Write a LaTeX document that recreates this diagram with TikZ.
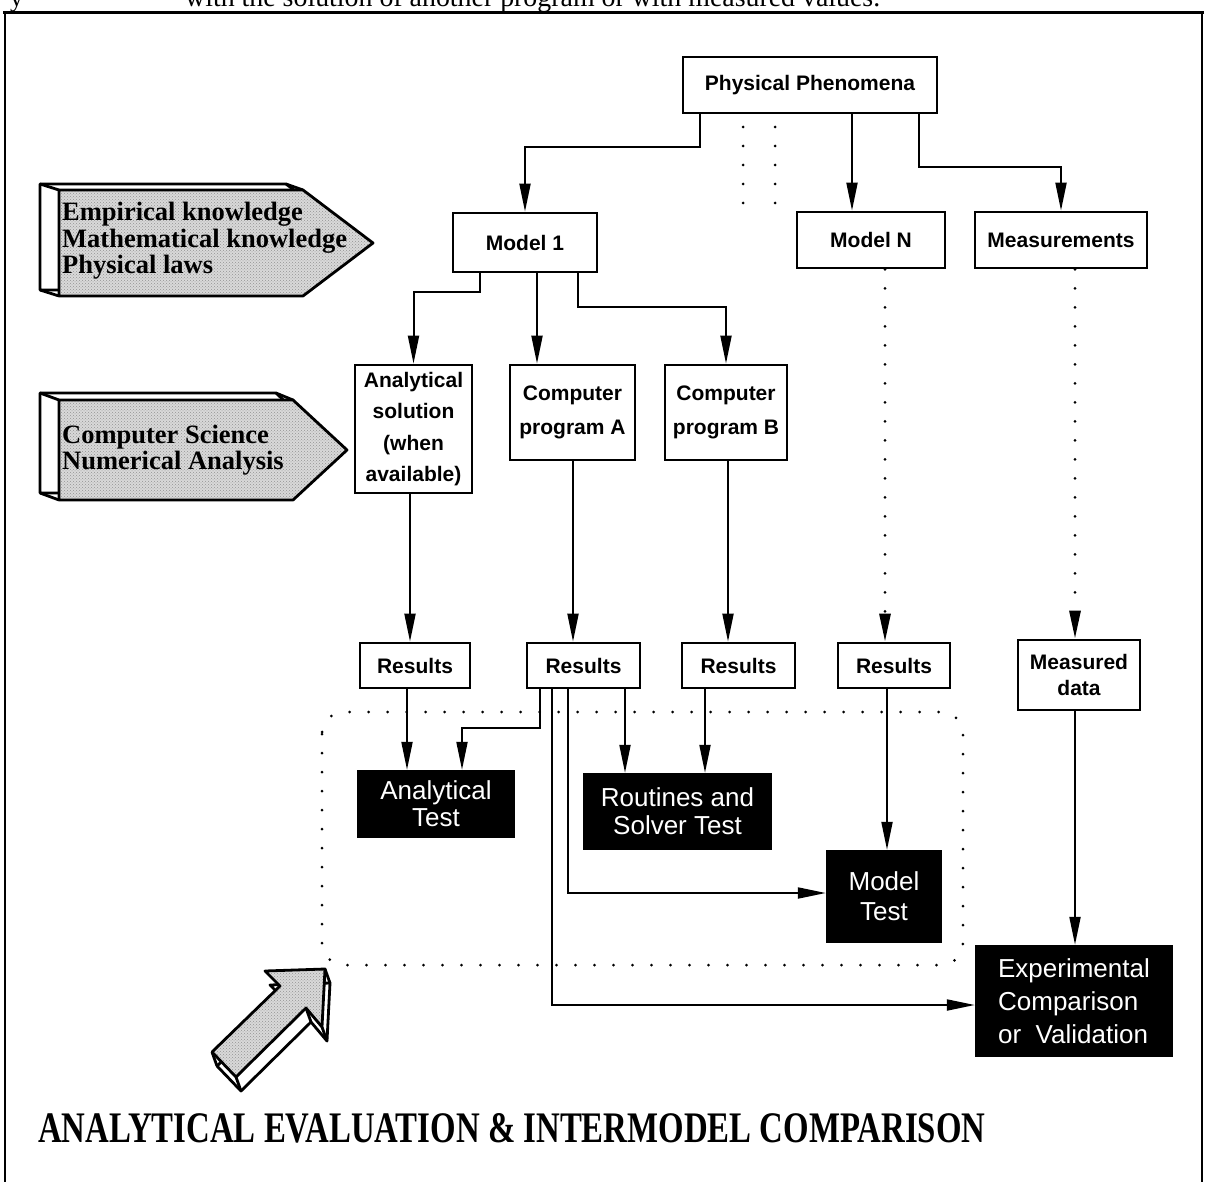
\documentclass[tikz,border=0pt]{standalone}
\usepackage{fontspec}
\setmainfont{Liberation Serif}
\setsansfont{Liberation Sans}
\usetikzlibrary{arrows.meta,patterns}

\tikzset{
  wbox/.style={draw, line width=2.8pt, fill=white, inner sep=0pt, align=center,
    font=\sffamily\bfseries\fontsize{21}{34}\selectfont},
  bbox/.style={fill=black, text=white, inner sep=0pt, align=center,
    font=\sffamily\fontsize{26}{29}\selectfont},
  tip/.style={-{Triangle[length=28pt,width=11pt]}},
  conn/.style={line width=2pt, tip},
  dotline/.style={line width=3pt, line cap=round, dash pattern=on 0pt off 19pt},
  dotconn/.style={dotline, tip},
  signface/.style={line width=2.8pt, line join=round,
    preaction={fill=gray!30},
    preaction={pattern=crosshatch dots, pattern color=gray!85}},
  signside/.style={line width=2.8pt, line join=round, fill=white},
  signtext/.style={anchor=west, inner sep=0pt, align=left,
    font=\bfseries\fontsize{26.5}{26.5}\selectfont},
}

\begin{document}
\begin{tikzpicture}[x=1pt,y=-1pt]
\useasboundingbox (0,0) rectangle (1207,1182);

% running text of the page above the figure (cut by the page edge)
\node[anchor=base west, inner sep=0pt, font=\fontsize{26}{26}\selectfont] (prev1) at (10,7) {y};
\node[anchor=base west, inner sep=0pt] (prev2) at (185,7)
  {\resizebox{695pt}{!}{\fontsize{26}{26}\selectfont with the solution of another program or with measured values.}};

% outer frame (open at the bottom)
\draw[line width=2pt] (5,1190) -- (5,13);
\draw[line width=2pt] (1202,13) -- (1202,1190);
\fill[white] (3,11.5) rectangle (1204,14.5);
\draw[line width=3pt] (3,13) -- (1204,13);

% ---------- white boxes ----------
\node[wbox, minimum width=254pt, minimum height=56pt] (pp)   at (810,85)    {Physical Phenomena};
\node[wbox, minimum width=144pt, minimum height=59pt] (m1)   at (525,242.5) {Model 1};
\node[wbox, minimum width=148pt, minimum height=56pt] (mn)   at (871,240)   {Model N};
\node[wbox, minimum width=172pt, minimum height=56pt] (meas) at (1061,240)  {Measurements};
\node[wbox, minimum width=117pt, minimum height=128pt, font=\sffamily\bfseries\fontsize{21}{31.5}\selectfont] (as) at (413.5,429) {Analytical\\solution\\(when\\available)};
\node[wbox, minimum width=125pt, minimum height=95pt] (pa)   at (572.5,412.5) {Computer\\program A};
\node[wbox, minimum width=122pt, minimum height=95pt] (pb)   at (726,412.5)   {Computer\\program B};
\node[wbox, minimum width=110pt, minimum height=45pt] (r1)   at (415,665.5)   {Results};
\node[wbox, minimum width=113pt, minimum height=45pt] (r2)   at (583.5,665.5) {Results};
\node[wbox, minimum width=113pt, minimum height=45pt] (r3)   at (738.5,665.5) {Results};
\node[wbox, minimum width=112pt, minimum height=45pt] (r4)   at (894,665.5)   {Results};
\node[wbox, minimum width=122pt, minimum height=70pt, font=\sffamily\bfseries\fontsize{21}{26}\selectfont] (md) at (1079,675) {Measured\\data};

% ---------- black boxes ----------
\node[bbox, minimum width=158pt, minimum height=68pt, font=\sffamily\fontsize{26}{27}\selectfont] (at) at (436,804) {Analytical\\Test};
\node[bbox, minimum width=189pt, minimum height=77pt, font=\sffamily\fontsize{26}{28}\selectfont] (rs) at (677.5,811.5) {Routines and\\Solver Test};
\node[bbox, minimum width=116pt, minimum height=93pt, font=\sffamily\fontsize{26}{30}\selectfont] (mt) at (884,896.5) {Model\\Test};
\node[bbox, minimum width=198pt, minimum height=112pt, align=left, font=\sffamily\fontsize{26}{33}\selectfont] (ec) at (1074,1001) {Experimental\\Comparison\\or\ \ Validation};

% ---------- connectors ----------
\draw[conn] (700,0 |- pp.south) -- (700,147) -| (m1.north);
\draw[conn] (852,0 |- pp.south) -- (852,0 |- mn.north);
\draw[conn] (919,0 |- pp.south) -- (919,167) -| (meas.north);
\draw[dotline] (743,127) -- (743,207);
\draw[dotline] (775,127) -- (775,207);

\draw[conn] (480,0 |- m1.south) -- (480,292) -| (as.north);
\draw[conn] (537,0 |- m1.south) -- (537,0 |- pa.north);
\draw[conn] (578,0 |- m1.south) -- (578,307) -| (pb.north);

\draw[conn] (410,0 |- as.south) -- (410,0 |- r1.north);
\draw[conn] (573,0 |- pa.south) -- (573,0 |- r2.north);
\draw[conn] (728,0 |- pb.south) -- (728,0 |- r3.north);
\draw[dotconn] (885,0 |- mn.south) -- (885,0 |- r4.north);
\draw[dotconn] (1075,0 |- meas.south) -- (1075,0 |- md.north);

\draw[conn] (407,0 |- r1.south) -- (407,0 |- at.north);
\draw[conn] (540,0 |- r2.south) -- (540,728) -- (462,728) -- (462,0 |- at.north);
\draw[conn] (552,0 |- r2.south) -- (552,1005) -- (552,1005 -| ec.west);
\draw[conn] (568,0 |- r2.south) -- (568,893) -- (568,893 -| mt.west);
\draw[conn] (625,0 |- r2.south) -- (625,0 |- rs.north);
\draw[conn] (705,0 |- r3.south) -- (705,0 |- rs.north);
\draw[conn] (887,0 |- r4.south) -- (887,0 |- mt.north);
\draw[conn] (1075,0 |- md.south) -- (1075,0 |- ec.north);

% dotted grouping frame
\draw[dotline, rounded corners=22pt] (322,712) rectangle (963,965);

% ---------- signposts ----------
\draw[signside] (40,184) -- (286,184) -- (356,237) -- (286,290) -- (40,290) -- cycle;
\draw[line width=2.8pt] (40,184) -- (59,190) (286,184) -- (303,190) (40,290) -- (59,296);
\draw[signface] (59,190) -- (303,190) -- (373,243) -- (303,296) -- (59,296) -- cycle;
\node[signtext] (sg1) at (62,241) {Empirical knowledge\\Mathematical knowledge\\Physical laws};

\draw[signside] (40,393) -- (276,393) -- (330,444) -- (276,493) -- (40,493) -- cycle;
\draw[line width=2.8pt] (40,393) -- (59,400) (276,393) -- (293,400) (40,493) -- (59,500);
\draw[signface] (59,400) -- (293,400) -- (347,450) -- (293,500) -- (59,500) -- cycle;
\node[signtext] (sg2) at (62,450) {Computer Science\\Numerical Analysis};

% 3-D block arrow
\draw[signside] (330,983) -- (270,985) -- (285,1000) -- (217,1066) -- (241,1091) -- (311,1022) -- (327,1041) -- cycle;
\draw[line width=2.8pt] (325,969) -- (330,983) (322,1027) -- (327,1041) (236,1077) -- (241,1091) (212,1052) -- (217,1066) (306,1008) -- (311,1022);
\draw[signface] (325,969) -- (265,971) -- (280,986) -- (212,1052) -- (236,1077) -- (306,1008) -- (322,1027) -- cycle;

% caption
\node[anchor=base west, inner sep=0pt] (title) at (38,1142)
  {\resizebox{947pt}{29pt}{\bfseries ANALYTICAL EVALUATION \& INTERMODEL COMPARISON}};
\end{tikzpicture}
\end{document}
